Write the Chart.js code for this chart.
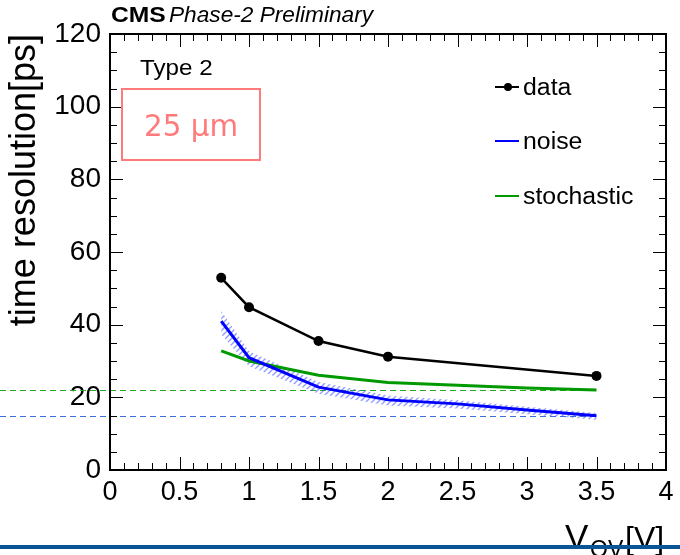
<!DOCTYPE html>
<html>
<head>
<meta charset="utf-8">
<script src="https://cdn.jsdelivr.net/npm/chart.js@4.4.1/dist/chart.umd.min.js"></script>
<style>
  html, body { margin: 0; padding: 0; background: #fff; }
  #wrap { position: relative; width: 680px; height: 555px; }
</style>
</head>
<body>
<div id="wrap"><canvas id="chart"></canvas></div>
<script>
// ── Data ───────────────────────────────────────────────
const vov        = [0.8, 1, 1.5, 2, 3.5];
const dataRes    = [52.9, 44.8, 35.5, 31.2, 25.9];
const modelVov   = [0.8, 1, 1.5, 2, 2.5, 3, 3.5];
const noiseRes   = [41.0, 30.9, 22.8, 19.3, 18.2, 16.5, 14.9];
const noiseErr   = [2.8, 1.8, 1.4, 1.2, 1.0, 0.9, 0.8];
const stochRes   = [32.8, 30.0, 26.1, 24.1, 23.3, 22.6, 22.0];
const seriesNames = ['data', 'noise', 'stochastic'];
const asymptotes = [22.0, 14.9];          // stochastic, noise plateaus
const asymEnd    = 3.5;
const xRange = [0, 4];
const yRange = [0, 120];

// ── Style ──────────────────────────────────────────────
const FONT  = "'Liberation Sans', Arial, Helvetica, sans-serif";
const BLACK = '#000000';
const BLUE  = '#0000ff';
const GREEN = '#009a00';
const SALMON = '#ff7b7b';

const pts = (xs, ys) => xs.map((x, i) => ({ x, y: ys[i] }));

// hatch pattern for the noise band
function makeHatch() {
  const c = document.createElement('canvas');
  c.width = 6; c.height = 6;
  const g = c.getContext('2d');
  g.strokeStyle = 'rgba(70,90,255,0.6)';
  g.lineWidth = 1.4;
  g.beginPath();
  g.moveTo(0, 6); g.lineTo(6, 0);
  g.moveTo(-1, 1); g.lineTo(1, -1);
  g.moveTo(5, 7); g.lineTo(7, 5);
  g.stroke();
  return g.createPattern(c, 'repeat');
}

function txt(ctx, s, x, y, font, color, align, sx) {
  ctx.save();
  ctx.translate(x, y);
  ctx.scale(sx || 1, 1);
  ctx.font = font;
  ctx.fillStyle = color;
  ctx.textAlign = align || 'left';
  ctx.textBaseline = 'alphabetic';
  ctx.fillText(s, 0, 0);
  ctx.restore();
}

// ── Plugin: dashed plateaus (drawn under the curves) ────
const plateauPlugin = {
  id: 'plateaus',
  beforeDatasetsDraw(chart) {
    const { ctx, scales: { x, y } } = chart;
    const cols = ['#22aa22', '#3b6fe0'];
    ctx.save();
    ctx.lineWidth = 1;
    ctx.setLineDash([6, 4]);
    asymptotes.forEach((v, i) => {
      const py = Math.round(y.getPixelForValue(v)) + 0.5;
      ctx.strokeStyle = cols[i];
      ctx.beginPath();
      ctx.moveTo(0, py);
      ctx.lineTo(x.getPixelForValue(asymEnd), py);
      ctx.stroke();
    });
    ctx.restore();
  }
};

// ── Plugin: ROOT-like frame, ticks, labels, legend ──────
const framePlugin = {
  id: 'rootFrame',
  afterDraw(chart) {
    const { ctx, chartArea: a, scales: { x, y } } = chart;
    ctx.save();
    ctx.strokeStyle = BLACK;
    ctx.lineWidth = 2;
    ctx.strokeRect(a.left, a.top, a.right - a.left, a.bottom - a.top);

    // inner ticks on all four sides
    ctx.lineWidth = 1;
    ctx.beginPath();
    for (let i = 0; i <= 40; i++) {
      const v = xRange[0] + i * 0.1;
      const len = i % 5 === 0 ? 13 : 7;
      const px = Math.round(x.getPixelForValue(v)) + 0.5;
      ctx.moveTo(px, a.bottom); ctx.lineTo(px, a.bottom - len);
      ctx.moveTo(px, a.top);    ctx.lineTo(px, a.top + len);
    }
    for (let i = 0; i <= 24; i++) {
      const v = yRange[0] + i * 5;
      const len = i % 4 === 0 ? 13 : 7;
      const py = Math.round(y.getPixelForValue(v)) + 0.5;
      ctx.moveTo(a.left, py);  ctx.lineTo(a.left + len, py);
      ctx.moveTo(a.right, py); ctx.lineTo(a.right - len, py);
    }
    ctx.stroke();

    // header
    txt(ctx, 'CMS', 111, 22, 'bold 22px ' + FONT, BLACK, 'left', 1.12);
    txt(ctx, 'Phase-2 Preliminary', 169, 22, 'italic 22px ' + FONT, BLACK, 'left', 1.03);

    // labels inside the frame
    txt(ctx, 'Type 2', 140, 75, '22px ' + FONT, BLACK, 'left', 1.1);
    ctx.strokeStyle = SALMON;
    ctx.lineWidth = 2;
    ctx.strokeRect(122, 89, 138, 71);
    txt(ctx, '25 \u03bcm', 191, 136, "30px 'DejaVu Sans', sans-serif", SALMON, 'center', 0.98);

    // legend
    const rows = [
      { label: seriesNames[0], color: BLACK, y: 87, marker: true },
      { label: seriesNames[1], color: BLUE,  y: 141 },
      { label: seriesNames[2], color: GREEN, y: 196 }
    ];
    rows.forEach(r => {
      ctx.strokeStyle = r.color;
      ctx.lineWidth = 2;
      ctx.beginPath();
      ctx.moveTo(495, r.y); ctx.lineTo(519, r.y);
      ctx.stroke();
      if (r.marker) {
        ctx.fillStyle = r.color;
        ctx.beginPath();
        ctx.arc(508, r.y, 4, 0, Math.PI * 2);
        ctx.fill();
      }
      txt(ctx, r.label, 523, r.y + 8, '23px ' + FONT, BLACK, 'left', 1.08);
    });

    // x axis title with subscript
    txt(ctx, 'V', 565, 549, '35px ' + FONT, BLACK, 'left', 1.0);
    txt(ctx, 'OV', 590, 557, '23px ' + FONT, BLACK, 'left', 1.0);
    txt(ctx, '[V]', 625, 549, '32px ' + FONT, BLACK, 'left', 1.0);

    // slide bar at the bottom
    ctx.fillStyle = '#0a5596';
    ctx.fillRect(0, 545, 680, 4);
    ctx.restore();
  }
};

new Chart(document.getElementById('chart'), {
  type: 'line',
  data: {
    datasets: [
      {
        label: seriesNames[0],
        data: pts(vov, dataRes),
        borderColor: BLACK,
        backgroundColor: BLACK,
        borderWidth: 2.5,
        pointRadius: 5,
        pointBackgroundColor: BLACK,
        pointBorderWidth: 0,
        fill: false,
        order: 0
      },
      {
        label: seriesNames[1],
        data: pts(modelVov, noiseRes),
        borderColor: BLUE,
        borderWidth: 3,
        pointRadius: 0,
        fill: false,
        order: 1
      },
      {
        label: seriesNames[2],
        data: pts(modelVov, stochRes),
        borderColor: GREEN,
        borderWidth: 3,
        pointRadius: 0,
        fill: false,
        order: 2
      },
      {
        label: 'noise band up',
        data: pts(modelVov, noiseRes.map((v, i) => v + noiseErr[i])),
        borderWidth: 0,
        borderColor: 'rgba(0,0,0,0)',
        pointRadius: 0,
        backgroundColor: makeHatch(),
        fill: '+1',
        order: 3
      },
      {
        label: 'noise band down',
        data: pts(modelVov, noiseRes.map((v, i) => v - noiseErr[i] * 1.3)),
        borderWidth: 0,
        borderColor: 'rgba(0,0,0,0)',
        pointRadius: 0,
        fill: false,
        order: 4
      }
    ]
  },
  options: {
    responsive: true,
    maintainAspectRatio: false,
    animation: false,
    devicePixelRatio: 1,
    layout: { padding: { top: 34, right: 14, left: 0, bottom: 0 } },
    plugins: { legend: { display: false }, tooltip: { enabled: false } },
    scales: {
      x: {
        type: 'linear',
        min: xRange[0], max: xRange[1],
        grid: { display: false, drawTicks: false },
        border: { display: false },
        ticks: {
          stepSize: 0.5, color: BLACK, padding: 6, maxRotation: 0,
          font: { family: FONT, size: 27 },
          callback: v => String(v)
        },
        afterFit(s) { s.height = 85; }
      },
      y: {
        min: yRange[0], max: yRange[1],
        grid: { display: false, drawTicks: false },
        border: { display: false },
        ticks: { stepSize: 20, color: BLACK, padding: 9, font: { family: FONT, size: 28 } },
        title: {
          display: true,
          text: 'time resolution[ps]',
          align: 'end',
          color: BLACK,
          padding: { top: 3, bottom: 0 },
          font: { family: FONT, size: 36 }
        },
        afterFit(s) { s.width = 110; }
      }
    }
  },
  plugins: [plateauPlugin, framePlugin]
});
</script>
</body>
</html>
